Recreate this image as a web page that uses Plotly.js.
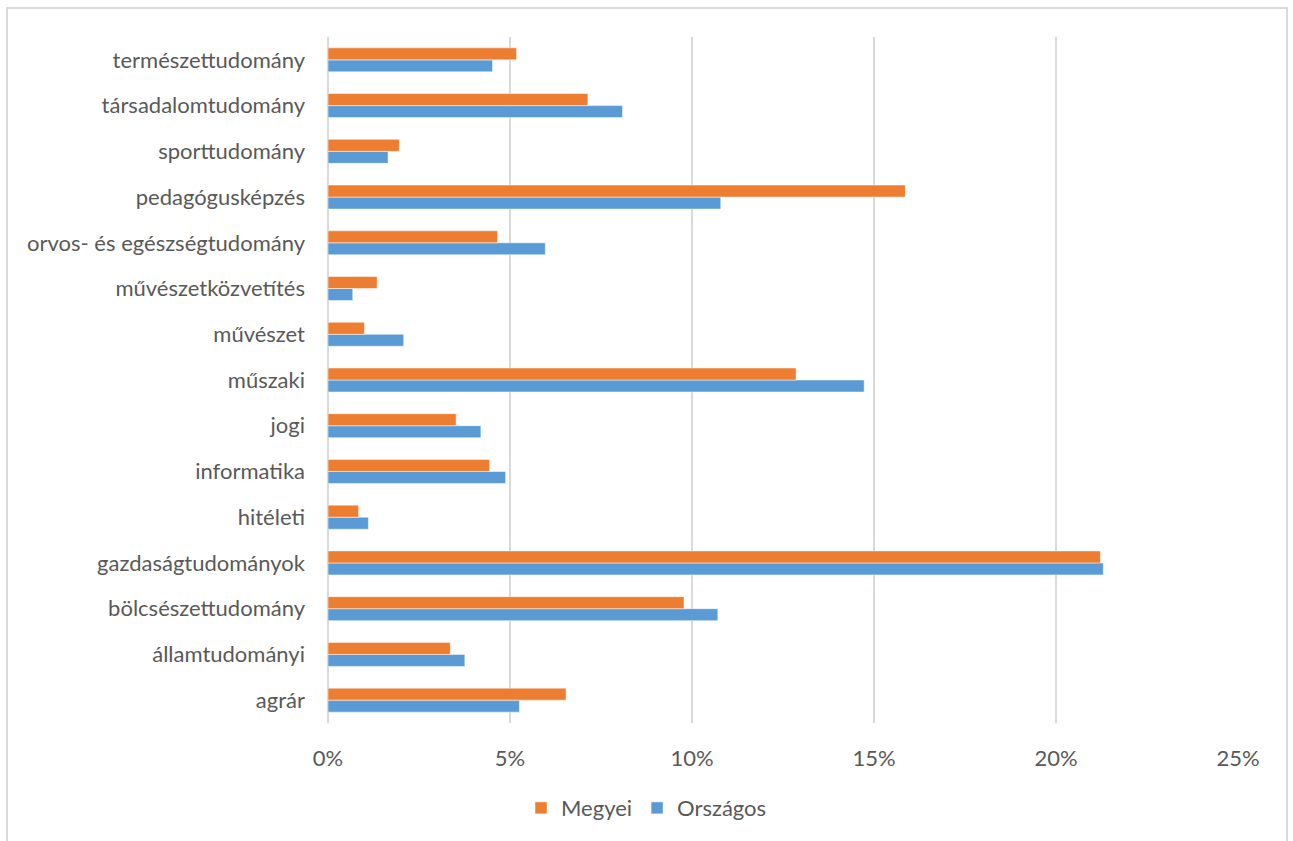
<!DOCTYPE html>
<html>
<head>
<meta charset="utf-8">
<script src="https://cdn.plot.ly/plotly-3.0.1.min.js"></script>
<style>
  html, body { margin: 0; padding: 0; background: #ffffff; }
  #frame { position: absolute; left: 6px; top: 7px; width: 1278px; height: 840px;
           border: 2px solid #d9d9d9; border-bottom: none; background: #fff; }
  #chart { width: 1278px; height: 840px; }
</style>
</head>
<body>
<div id="frame"><div id="chart"></div></div>
<script>
const categories = ["agrár", "államtudományi", "bölcsészettudomány", "gazdaságtudományok", "hitéleti",
  "informatika", "jogi", "műszaki", "művészet", "művészetközvetítés",
  "orvos- és egészségtudomány", "pedagógusképzés", "sporttudomány", "társadalomtudomány", "természettudomány"];
const megyei = [0.0654, 0.0336, 0.0978, 0.2122, 0.0084, 0.0444, 0.0352, 0.1286, 0.0100, 0.0135,
  0.0466, 0.1586, 0.0196, 0.0714, 0.0518];
const orszagos = [0.0526, 0.0376, 0.1071, 0.2130, 0.0111, 0.0488, 0.0420, 0.1473, 0.0208, 0.0068,
  0.0597, 0.1079, 0.0165, 0.0809, 0.0452];
const tickVals = [0, 0.05, 0.10, 0.15, 0.20, 0.25];
const tickText = ["0%", "5%", "10%", "15%", "20%", "25%"];

const font = "Lato, 'Open Sans', sans-serif";
const traces = [
  { type: "bar", orientation: "h", name: "Országos", y: categories, x: orszagos,
    marker: { color: "#5B9BD5", line: { color: "#ffffff", width: 0.5 } }, legendrank: 2 },
  { type: "bar", orientation: "h", name: "Megyei", y: categories, x: megyei,
    marker: { color: "#ED7D31", line: { color: "#ffffff", width: 0.5 } }, legendrank: 1 }
];
const layout = {
  width: 1278, height: 840,
  margin: { l: 320, r: 48, t: 28, b: 126 },
  paper_bgcolor: "#ffffff", plot_bgcolor: "#ffffff",
  font: { family: font, size: 22, color: "#595959" },
  barmode: "group", bargap: 0.475, bargroupgap: 0,
  xaxis: { range: [0, 0.25], tickvals: tickVals, ticktext: tickText,
    showgrid: true, gridcolor: "#d9d9d9", gridwidth: 1.5,
    zeroline: true, zerolinecolor: "#d9d9d9", zerolinewidth: 1.5,
    showline: false, ticks: "", ticklabelstandoff: 20, fixedrange: true },
  yaxis: { type: "category", showgrid: false, zeroline: false, showline: false,
    ticks: "", ticklabelstandoff: 22, automargin: false },
  legend: { orientation: "h", x: 0.350, xanchor: "center", y: -0.124, yanchor: "middle",
    font: { family: font, size: 22, color: "#595959" }, itemwidth: 30, traceorder: "normal" },
  showlegend: true
};
Plotly.newPlot("chart", traces, layout, { displayModeBar: false, staticPlot: true });
</script>
</body>
</html>
